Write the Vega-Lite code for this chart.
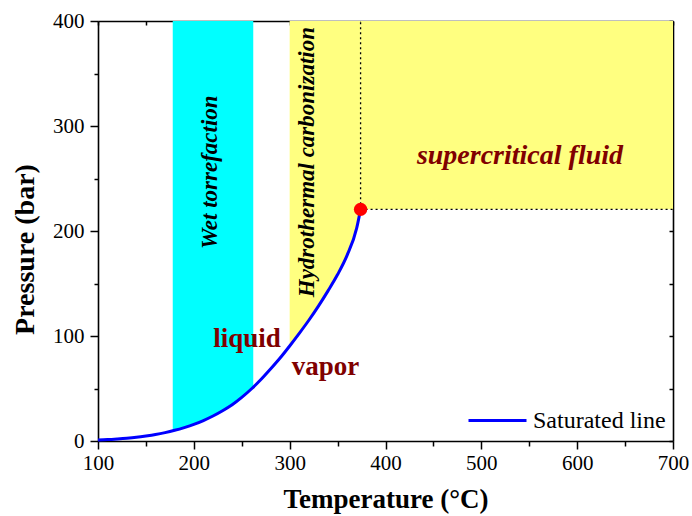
{
  "$schema": "https://vega.github.io/schema/vega-lite/v6.json",
  "width": 575,
  "height": 420,
  "autosize": {"type": "none"},
  "padding": {"left": 98, "top": 21, "right": 19, "bottom": 75},
  "background": "white",
  "config": {
    "view": {"stroke": null},
    "font": "Liberation Serif",
    "axis": {
      "labelFont": "Liberation Serif",
      "titleFont": "Liberation Serif",
      "labelFontSize": 21,
      "labelColor": "black",
      "titleColor": "black",
      "domainColor": "black",
      "tickColor": "black",
      "domainWidth": 1.6,
      "tickWidth": 1.5,
      "grid": false
    }
  },
  "datasets": {
    "curve": [
      {"T": 100, "P": 1.0}, {"T": 110, "P": 1.4}, {"T": 120, "P": 2.0}, {"T": 130, "P": 2.7},
      {"T": 140, "P": 3.6}, {"T": 150, "P": 4.8}, {"T": 160, "P": 6.2}, {"T": 170, "P": 8.0},
      {"T": 180, "P": 10.2}, {"T": 190, "P": 12.8}, {"T": 200, "P": 15.8}, {"T": 210, "P": 19.5},
      {"T": 220, "P": 23.8}, {"T": 230, "P": 28.8}, {"T": 240, "P": 34.5}, {"T": 250, "P": 41.5},
      {"T": 260, "P": 49.5}, {"T": 270, "P": 58.5}, {"T": 280, "P": 68.5}, {"T": 290, "P": 79},
      {"T": 300, "P": 90.5}, {"T": 310, "P": 102.5}, {"T": 320, "P": 115}, {"T": 330, "P": 128.5},
      {"T": 340, "P": 143}, {"T": 350, "P": 158.5}, {"T": 360, "P": 177}, {"T": 370, "P": 203},
      {"T": 374, "P": 220.6}
    ],
    "wet": [
      {"T": 178, "P": 9.8}, {"T": 180, "P": 10.2}, {"T": 190, "P": 12.8}, {"T": 200, "P": 15.8},
      {"T": 210, "P": 19.5}, {"T": 220, "P": 23.8}, {"T": 230, "P": 28.8}, {"T": 240, "P": 34.5},
      {"T": 250, "P": 41.5}, {"T": 260, "P": 49.5}, {"T": 262, "P": 51.2}
    ],
    "htc": [
      {"T": 300, "P": 90.5}, {"T": 310, "P": 102.5}, {"T": 320, "P": 115}, {"T": 330, "P": 128.5},
      {"T": 340, "P": 143}, {"T": 350, "P": 158.5}, {"T": 360, "P": 177}, {"T": 370, "P": 203},
      {"T": 374, "P": 220.6}
    ]
  },
  "layer": [
    {
      "data": {"name": "wet"},
      "mark": {"type": "area", "color": "#00ffff", "interpolate": "monotone"},
      "encoding": {
        "x": {"field": "T", "type": "quantitative", "scale": {"domain": [100, 700], "nice": false, "zero": false},
              "axis": {"orient": "bottom", "values": [100,150,200,250,300,350,400,450,500,550,600,650,700],
                       "labelExpr": "datum.value % 100 === 0 ? datum.label : ''",
                       "tickSize": {"condition": {"test": "datum.value % 100 === 0", "value": 8}, "value": 5},
                       "labelPadding": 3, "labelFlush": false,
                       "title": "Temperature (°C)", "titleFontSize": 27, "titleFontWeight": "bold",
                       "titleY": 66, "titleBaseline": "alphabetic"}},
        "y": {"field": "P", "type": "quantitative", "scale": {"domain": [0, 400], "nice": false, "zero": false},
              "axis": {"orient": "left", "values": [0,50,100,150,200,250,300,350,400],
                       "labelExpr": "datum.value % 100 === 0 ? datum.label : ''",
                       "tickSize": {"condition": {"test": "datum.value % 100 === 0", "value": 8}, "value": 4},
                       "labelPadding": 6, "labelFlush": false,
                       "title": "Pressure (bar)", "titleFontSize": 28, "titleFontWeight": "bold",
                       "titleX": -73, "titleY": 228, "titleAngle": 270, "titleAlign": "center", "titleBaseline": "middle"}},
        "y2": {"datum": 400}
      }
    },
    {
      "data": {"name": "htc"},
      "mark": {"type": "area", "color": "#ffff80", "interpolate": "monotone"},
      "encoding": {
        "x": {"field": "T", "type": "quantitative", "scale": {"domain": [100, 700], "nice": false, "zero": false},
              "axis": {"orient": "top", "values": [100,150,200,250,300,350,400,450,500,550,600,650,700],
                       "labels": false, "tickSize": -4, "title": null}},
        "y": {"field": "P", "type": "quantitative", "scale": {"domain": [0, 400], "nice": false, "zero": false},
              "axis": {"orient": "right", "values": [0,50,100,150,200,250,300,350,400],
                       "labels": false, "tickSize": -4, "title": null}},
        "y2": {"datum": 400}
      }
    },
    {
      "data": {"values": [{"T1": 374, "T2": 700, "P1": 220.6, "P2": 400}]},
      "mark": {"type": "rect", "color": "#ffff80"},
      "encoding": {
        "x": {"field": "T1", "type": "quantitative", "axis": null},
        "x2": {"field": "T2"},
        "y": {"field": "P1", "type": "quantitative", "axis": null},
        "y2": {"field": "P2"}
      }
    },
    {
      "data": {"values": [
        {"Ta": 374, "Tb": 374, "Pa": 220.6, "Pb": 400},
        {"Ta": 374, "Tb": 700, "Pa": 220.6, "Pb": 220.6}
      ]},
      "mark": {"type": "rule", "color": "black", "strokeDash": [2, 3], "strokeWidth": 1.3},
      "encoding": {
        "x": {"field": "Ta", "type": "quantitative", "axis": null},
        "x2": {"field": "Tb"},
        "y": {"field": "Pa", "type": "quantitative", "axis": null},
        "y2": {"field": "Pb"}
      }
    },
    {
      "data": {"name": "curve"},
      "mark": {"type": "line", "strokeWidth": 3, "interpolate": "monotone"},
      "encoding": {
        "x": {"field": "T", "type": "quantitative", "axis": null},
        "y": {"field": "P", "type": "quantitative", "axis": null},
        "color": {"datum": "Saturated line", "type": "nominal",
                  "scale": {"range": ["#0000ff"]},
                  "legend": {"title": null, "orient": "none", "legendX": 369, "legendY": 369,
                             "symbolType": "stroke", "symbolSize": 3364, "symbolStrokeWidth": 3,
                             "labelFont": "Liberation Serif", "labelFontSize": 24, "labelColor": "black",
                             "labelOffset": 5, "padding": 0}}
      }
    },
    {
      "data": {"values": [{"T": 374, "P": 220.6}]},
      "mark": {"type": "point", "filled": true, "color": "#ff0000", "size": 180, "opacity": 1},
      "encoding": {
        "x": {"field": "T", "type": "quantitative", "axis": null},
        "y": {"field": "P", "type": "quantitative", "axis": null}
      }
    },
    {
      "data": {"values": [
        {"T": 217, "P": 256, "label": "Wet torrefaction"},
        {"T": 318.5, "P": 265.6, "label": "Hydrothermal carbonization"}
      ]},
      "mark": {"type": "text", "angle": 270, "align": "center", "baseline": "middle",
               "font": "Liberation Serif", "fontSize": 23, "fontWeight": "bold", "fontStyle": "italic", "color": "black"},
      "encoding": {
        "x": {"field": "T", "type": "quantitative", "axis": null},
        "y": {"field": "P", "type": "quantitative", "axis": null},
        "text": {"field": "label"}
      }
    },
    {
      "data": {"values": [{"T": 540.3, "P": 264.1, "label": "supercritical fluid"}]},
      "mark": {"type": "text", "align": "center", "baseline": "alphabetic",
               "font": "Liberation Serif", "fontSize": 28, "fontWeight": "bold", "fontStyle": "italic", "color": "#800000"},
      "encoding": {
        "x": {"field": "T", "type": "quantitative", "axis": null},
        "y": {"field": "P", "type": "quantitative", "axis": null},
        "text": {"field": "label"}
      }
    },
    {
      "data": {"values": [
        {"T": 255.4, "P": 89.6, "label": "liquid"},
        {"T": 337.5, "P": 62.7, "label": "vapor"}
      ]},
      "mark": {"type": "text", "align": "center", "baseline": "alphabetic",
               "font": "Liberation Serif", "fontSize": 27, "fontWeight": "bold", "color": "#800000"},
      "encoding": {
        "x": {"field": "T", "type": "quantitative", "axis": null},
        "y": {"field": "P", "type": "quantitative", "axis": null},
        "text": {"field": "label"}
      }
    }
  ],
  "resolve": {"scale": {"x": "shared", "y": "shared"}, "axis": {"x": "independent", "y": "independent"}}
}
